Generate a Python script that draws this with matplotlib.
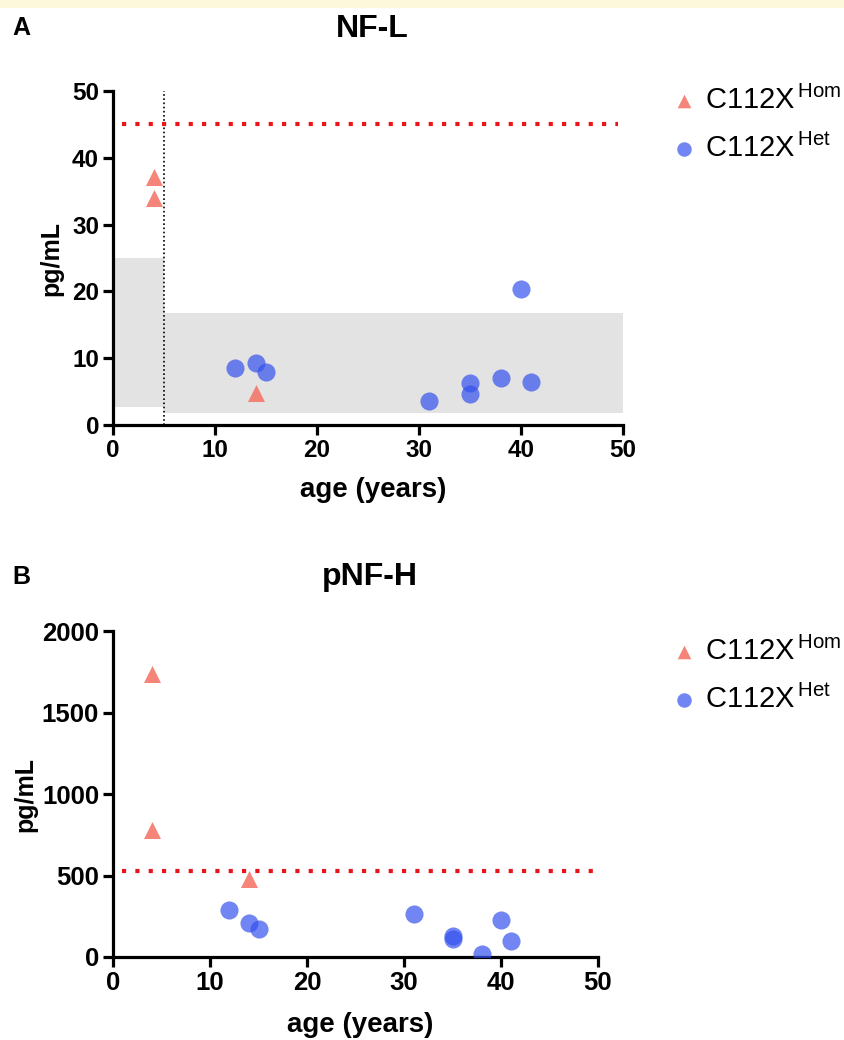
## NF-L and pNF-H by age, C112X Hom vs Het

import matplotlib.pyplot as plt
from matplotlib.patches import Rectangle

plt.rcParams['font.family'] = ['Liberation Sans', 'DejaVu Sans']
plt.rcParams['mathtext.fontset'] = 'custom'
plt.rcParams['mathtext.rm'] = 'Liberation Sans'

## Data
hom_age_nfl = [4, 4, 14]
hom_nfl = [37.2, 34.0, 4.8]
het_age_nfl = [12, 14, 15, 31, 35, 35, 38, 40, 41]
het_nfl = [8.5, 9.3, 7.9, 3.6, 6.3, 4.6, 7.1, 20.4, 6.5]

hom_age_pnfh = [4, 4, 14]
hom_pnfh = [1738, 778, 479]
het_age_pnfh = [12, 14, 15, 31, 35, 35, 38, 40, 41]
het_pnfh = [289, 209, 170, 264, 131, 108, 20, 227, 98]

nfl_cutoff = 45
pnfh_cutoff = 528
# reference ranges (age from, age to, low, high)
nfl_ref = [(0, 5, 2.7, 25), (5, 50, 1.8, 16.8)]
age_split = 5

hom_color = '#f4776a'
het_color = '#3552ee'
hom_label = r'C112X$^{\,\mathrm{Hom}}$'
het_label = r'C112X$^{\,\mathrm{Het}}$'

W, H = 844, 1040


def style_axes(ax, ticksize, xlab_y, ylab_x):
    for s in ['top', 'right']:
        ax.spines[s].set_visible(False)
    for s in ['left', 'bottom']:
        ax.spines[s].set_linewidth(2.3)
    ax.tick_params(width=2.3, length=7, labelsize=ticksize, pad=3)
    for lab in ax.get_xticklabels() + ax.get_yticklabels():
        lab.set_fontweight('bold')
    ax.set_xlabel('age (years)', fontsize=20, fontweight='bold')
    ax.set_ylabel('pg/mL', fontsize=18, fontweight='bold')
    ax.xaxis.set_label_coords(0.51, xlab_y)
    ax.yaxis.set_label_coords(ylab_x, 0.5)


def add_legend(ax, top_px):
    ax.legend(loc='upper left', bbox_to_anchor=(658/W, 1 - top_px/H),
              bbox_transform=fig.transFigure, borderaxespad=0, frameon=False,
              fontsize=21, handlelength=1.0, handletextpad=0.2, labelspacing=0.65,
              markerscale=0.8)


fig = plt.figure(figsize=(W/100, H/100), dpi=100)
fig.patches.append(Rectangle((0, 1 - 7/H), 1, 7/H, transform=fig.transFigure,
                             color='#fdf7dc', zorder=0))

#%% Panel A - NF-L
ax1 = fig.add_axes([113/W, 1 - 425/H, 510/W, 334/H])
ax1.set_xlim(0, 50)
ax1.set_ylim(0, 50)
ax1.set_xticks(range(0, 51, 10))
ax1.set_yticks(range(0, 51, 10))

for x0, x1, lo, hi in nfl_ref:
    ax1.fill_between([x0, x1], lo, hi, color='#e3e3e3', lw=0, zorder=0)
ax1.axvline(age_split, color='black', ls=(0, (1, 1.5)), lw=1.2, zorder=1)
ax1.hlines(nfl_cutoff, 0.9, 49.5, color='#e8151b', ls=(0, (1, 2.2)), lw=3, zorder=2)

ax1.scatter(hom_age_nfl, hom_nfl, marker='^', s=150, color=hom_color, alpha=0.9,
            lw=0, label=hom_label, zorder=3)
ax1.scatter(het_age_nfl, het_nfl, marker='o', s=170, color=het_color, alpha=0.7,
            lw=0, label=het_label, zorder=3)
style_axes(ax1, 17.5, -0.156, -0.098)
add_legend(ax1, 74)

fig.text(12/W, 1 - 28/H, 'A', fontsize=18, fontweight='bold', va='center')
fig.text(372/W, 1 - 29/H, 'NF-L', fontsize=23, fontweight='bold', va='center', ha='center')

#%% Panel B - pNF-H
ax2 = fig.add_axes([113/W, 1 - 957/H, 485/W, 325.6/H])
ax2.set_xlim(0, 50)
ax2.set_ylim(0, 2000)
ax2.set_xticks(range(0, 51, 10))
ax2.set_yticks(range(0, 2001, 500))

ax2.hlines(pnfh_cutoff, 0.9, 49.5, color='#e8151b', ls=(0, (1, 2.2)), lw=3, zorder=2)
ax2.scatter(hom_age_pnfh, hom_pnfh, marker='^', s=150, color=hom_color, alpha=0.9,
            lw=0, label=hom_label, zorder=3)
ax2.scatter(het_age_pnfh, het_pnfh, marker='o', s=170, color=het_color, alpha=0.7,
            lw=0, label=het_label, zorder=3)
style_axes(ax2, 18.5, -0.169, -0.155)
add_legend(ax2, 625)

fig.text(12/W, 1 - 577/H, 'B', fontsize=18, fontweight='bold', va='center')
fig.text(370/W, 1 - 577/H, 'pNF-H', fontsize=23, fontweight='bold', va='center', ha='center')

plt.savefig('out.png', dpi=100)
plt.close()
